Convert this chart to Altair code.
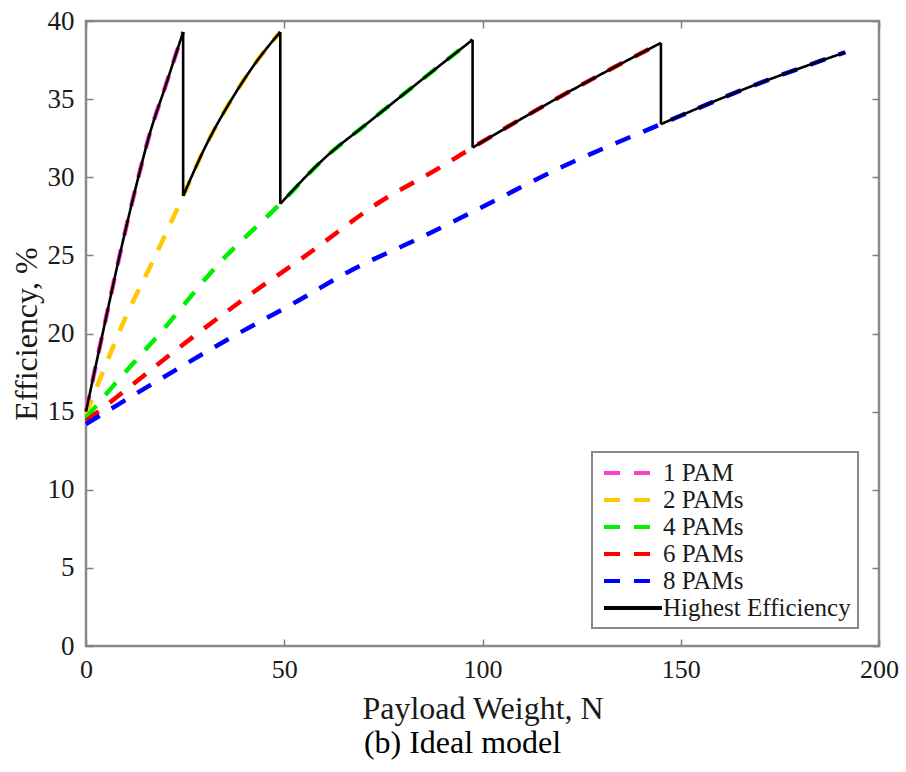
import altair as alt
import pandas as pd

# ---- data ----
series_names = ["1 PAM", "2 PAMs", "4 PAMs", "6 PAMs", "8 PAMs"]
best_name = "Highest Efficiency"

x_1pam = [0, 4.2, 8.4, 13.0, 16.1, 20.0, 24.5]
y_1pam = [15.0, 20.0, 24.9, 29.8, 32.8, 35.8, 39.3]

x_2pam = [0, 3.4, 10.1, 16.8, 24.5, 30.0, 37.0, 43.0, 49.0]
y_2pam = [14.8, 17.0, 21.1, 24.6, 28.8, 31.9, 35.1, 37.4, 39.3]

x_4pam = [0, 6.7, 19.3, 33.6, 49.0, 60.5, 70.7, 83.0, 97.5]
y_4pam = [14.6, 16.6, 20.2, 24.5, 28.3, 31.3, 33.4, 35.9, 38.8]

x_6pam = [0, 7.6, 23.5, 38.7, 55.5, 74.0, 89.1, 97.5, 122.0, 145.0]
y_6pam = [14.4, 15.9, 19.1, 22.0, 25.0, 28.4, 30.6, 31.9, 35.5, 38.6]

x_8pam = [0, 8.4, 23.5, 37.0, 52.1, 67.3, 84.1, 99.2, 118.7, 145.0, 166.6, 191.5]
y_8pam = [14.2, 15.5, 17.8, 19.8, 21.9, 24.1, 26.1, 28.0, 30.5, 33.4, 35.7, 38.0]

# payload weights at which the best configuration switches
switch_x = [24.5, 49.0, 97.5, 145.0]

x_ticks = [0, 50, 100, 150, 200]
y_ticks = [0, 5, 10, 15, 20, 25, 30, 35, 40]

colors = ["#ff3fc8", "#ffc800", "#00f000", "#ff0000", "#0000ff", "#000000"]
dashes = [[16, 14]] * 5 + [[1, 0]]

# ---- tables ----
xs_all = [x_1pam, x_2pam, x_4pam, x_6pam, x_8pam]
ys_all = [y_1pam, y_2pam, y_4pam, y_6pam, y_8pam]

rows = []
for name, xs, ys in zip(series_names, xs_all, ys_all):
    for i, (x, y) in enumerate(zip(xs, ys)):
        rows.append({"series": name, "x": x, "y": y, "order": i})
df_series = pd.DataFrame(rows)

# highest-efficiency envelope: pieces of each series plus the vertical drops
starts = [0.0] + switch_x
ends = switch_x + [max(x_8pam)]
best_rows = []
for j, (xs, ys, s, e) in enumerate(zip(xs_all, ys_all, starts, ends)):
    k = 0
    for x, y in zip(xs, ys):
        if s <= x <= e:
            best_rows.append({"series": best_name, "seg": f"s{j}", "x": x, "y": y, "order": k})
            k += 1
for j, sx in enumerate(switch_x):
    y_top = ys_all[j][xs_all[j].index(sx)]
    y_bot = ys_all[j + 1][xs_all[j + 1].index(sx)]
    best_rows.append({"series": best_name, "seg": f"d{j}", "x": sx, "y": y_top, "order": 0})
    best_rows.append({"series": best_name, "seg": f"d{j}", "x": sx, "y": y_bot, "order": 1})
df_best = pd.DataFrame(best_rows)

all_names = series_names + [best_name]

W, H = 793, 625
FONT = "Liberation Serif"

xscale = alt.Scale(domain=[0, 200], nice=False, zero=False)
yscale = alt.Scale(domain=[0, 40], nice=False, zero=False)

legend = alt.Legend(
    title=None,
    orient="none",
    legendX=506,
    legendY=431,
    symbolType="M-0.75,0L4.08,0",
    symbolSize=576,
    symbolStrokeWidth=4,
    labelFont=FONT,
    labelFontSize=25,
    labelLimit=400,
    labelColor="#1a1a1a",
    labelOffset=36,
    rowPadding=0,
    padding=7,
    strokeColor="#8a8a8a",
    fillColor="white",
)

color_enc = alt.Color("series:N", scale=alt.Scale(domain=all_names, range=colors), legend=legend)
dash_enc = alt.StrokeDash("series:N", scale=alt.Scale(domain=all_names, range=dashes), legend=legend)

# main layer: coloured dashed curves + main axes
lines = alt.Chart(df_series).mark_line(
    strokeWidth=4.5, strokeCap="butt", interpolate="monotone"
).encode(
    x=alt.X("x:Q", scale=xscale, axis=alt.Axis(
        orient="bottom", values=x_ticks, tickSize=0, domain=False, grid=False,
        labelFontSize=26, labelPadding=10, labelFlush=False,
        title="Payload Weight, N", titleFontSize=32,
        titleBaseline="alphabetic", titleY=72)),
    y=alt.Y("y:Q", scale=yscale, axis=alt.Axis(
        orient="left", values=y_ticks, tickSize=0, domain=False, grid=False,
        labelFontSize=27, labelPadding=12, labelFlush=False,
        title="Efficiency, %", titleFontSize=32, titlePadding=4)),
    color=color_enc,
    strokeDash=dash_enc,
    order="order:Q",
)

# black "highest efficiency" line; its axes give inward ticks on bottom / left
best = alt.Chart(df_best).mark_line(strokeWidth=2.6, interpolate="monotone").encode(
    x=alt.X("x:Q", scale=xscale, title=None, axis=alt.Axis(
        orient="top", offset=-H, values=x_ticks, tickSize=7, labels=False,
        domain=False, grid=False)),
    y=alt.Y("y:Q", scale=yscale, title=None, axis=alt.Axis(
        orient="right", offset=-W, values=y_ticks, tickSize=7, labels=False,
        domain=False, grid=False)),
    color=color_enc,
    strokeDash=dash_enc,
    detail="seg:N",
    order="order:Q",
)

# invisible copy whose axes give inward ticks on top / right edges
ghost = alt.Chart(df_best).mark_line(opacity=0).encode(
    x=alt.X("x:Q", scale=xscale, title=None, axis=alt.Axis(
        orient="bottom", offset=-H, values=x_ticks, tickSize=7, labels=False,
        domain=False, grid=False)),
    y=alt.Y("y:Q", scale=yscale, title=None, axis=alt.Axis(
        orient="left", offset=-W, values=y_ticks, tickSize=7, labels=False,
        domain=False, grid=False)),
    detail="seg:N",
    order="order:Q",
)

chart = alt.layer(lines, best, ghost).resolve_axis(
    x="independent", y="independent"
).properties(
    width=W,
    height=H,
    autosize=alt.AutoSizeParams(type="none"),
    padding={"left": 86, "top": 21, "right": 27, "bottom": 126},
    title=alt.TitleParams(
        "(b) Ideal model", orient="bottom", anchor="middle", fontSize=32,
        font=FONT, fontWeight="normal", color="#000000", offset=4, dx=-20),
).configure_axis(
    labelFont=FONT,
    titleFont=FONT,
    titleFontWeight="normal",
    labelColor="#1a1a1a",
    titleColor="#1a1a1a",
    tickColor="#808080",
    tickWidth=1.5,
).configure_view(
    stroke="#8a8a8a",
    strokeWidth=2.5,
).configure_legend(
    strokeWidth=2,
    labelFontSize=25,
    labelLimit=400,
)

chart.save("out.html", embed_options={"renderer": "svg", "actions": False})
